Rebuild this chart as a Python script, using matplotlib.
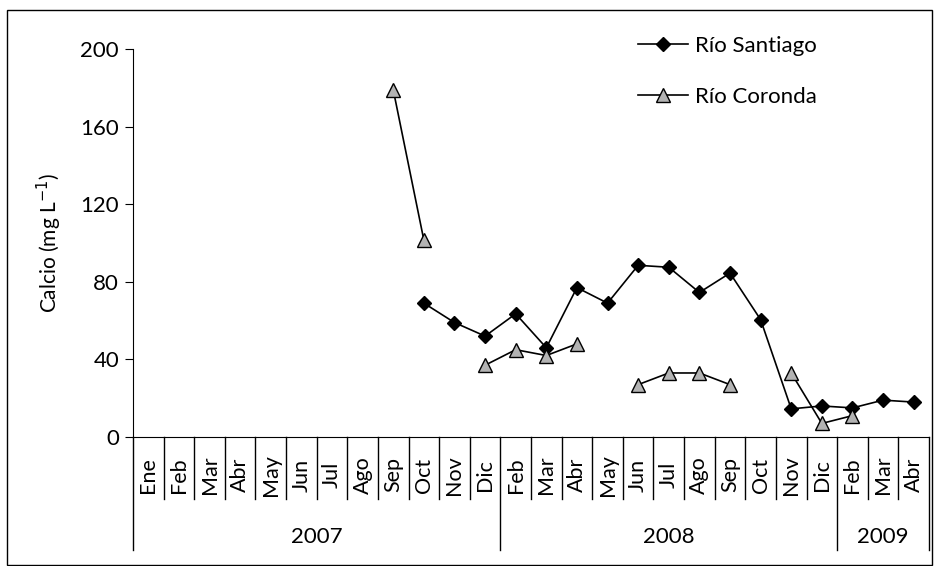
import numpy as np
import matplotlib
matplotlib.use("Agg")
import matplotlib.pyplot as plt
import matplotlib.transforms as mtransforms
from matplotlib.patches import Rectangle

plt.rcParams['font.family'] = ['Lato', 'DejaVu Sans']

# categorias (meses) y años
meses = ['Ene', 'Feb', 'Mar', 'Abr', 'May', 'Jun', 'Jul', 'Ago', 'Sep', 'Oct', 'Nov', 'Dic',
         'Feb', 'Mar', 'Abr', 'May', 'Jun', 'Jul', 'Ago', 'Sep', 'Oct', 'Nov', 'Dic',
         'Feb', 'Mar', 'Abr']
anios = ['2007', '2008', '2009']
meses_por_anio = [12, 11, 3]

nan = np.nan
santiago = [nan, nan, nan, nan, nan, nan, nan, nan, nan, 69, 59, 52,
            63.5, 46, 77, 69, 88.5, 87.5, 74.5, 84.5, 60.5, 14.5, 16,
            15, 19, 18]
coronda = [nan, nan, nan, nan, nan, nan, nan, nan, 179, 101.5, nan, 37,
           45, 42, 48, nan, 27, 33, 33, 27, nan, 33, 7,
           11, nan, nan]

W, H = 934, 566
fig = plt.figure(figsize=(W / 100, H / 100), dpi=100)
ax = fig.add_axes([133 / W, 1 - 437 / H, (929 - 133) / W, (437 - 49) / H])

x = np.arange(len(meses))
ax.plot(x, santiago, color='black', lw=1.2, marker='D', ms=7.5,
        mfc='black', mec='black', label='Río Santiago')
ax.plot(x, coronda, color='black', lw=1.2, marker='^', ms=9.5,
        mfc='#b3b3b3', mec='black', mew=1.0, label='Río Coronda')

ax.set_xlim(-0.5, len(meses) - 0.5)
ax.set_ylim(0, 200)
ax.set_yticks([0, 40, 80, 120, 160, 200])
ax.tick_params(axis='y', direction='out', length=6, labelsize=16, pad=4)
ax.set_xticks([])
for s in ['top', 'right']:
    ax.spines[s].set_visible(False)
ax.set_ylabel('Calcio (mg L$^{-1}$)', fontsize=15, labelpad=12)

# eje de categorias con dos niveles
trans = mtransforms.blended_transform_factory(ax.transData, ax.transAxes)
alto_mes = 62 / 388
alto_anio = 113 / 388
limites = np.cumsum([0] + meses_por_anio) - 0.5
for k in range(len(meses) + 1):
    xb = k - 0.5
    largo = alto_anio if xb in limites else alto_mes
    ax.plot([xb, xb], [0, -largo], color='black', lw=1, transform=trans, clip_on=False)
for i, m in enumerate(meses):
    ax.text(i, -38 / 388, m, rotation=90, ha='center', va='center',
            fontsize=15.5, transform=trans)
for j, a in enumerate(anios):
    xc = (limites[j] + limites[j + 1]) / 2
    ax.text(xc, -100 / 388, a, ha='center', va='center', fontsize=16, transform=trans)

ax.legend(loc='upper left', bbox_to_anchor=(638 / W, 1 - 36 / H),
          bbox_transform=fig.transFigure, frameon=False, fontsize=16,
          handlelength=2.25, handletextpad=0.3, labelspacing=1.4,
          borderpad=0, borderaxespad=0)

# marco exterior
fig.patches.append(Rectangle((7 / W, 1 / H), 925 / W, (565 - 10) / H,
                             transform=fig.transFigure, fill=False,
                             edgecolor='black', lw=1))

fig.savefig('out.png', dpi=100)
